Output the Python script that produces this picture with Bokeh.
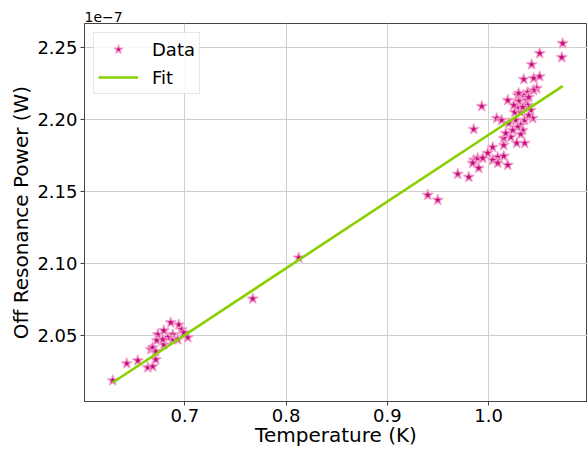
from bokeh.plotting import figure
from bokeh.models import Range1d, Title, Legend, LegendItem, FixedTicker, PrintfTickFormatter
from bokeh.embed import file_html
from bokeh.resources import INLINE

# Data (temperature in K, power in units of 1e-7 W)
temp_k = [
    0.6289, 0.6427, 0.6536, 0.6635, 0.6684, 0.6714, 0.6664, 0.6684, 0.6714, 0.6733,
    0.6724, 0.6793, 0.6862, 0.6941, 0.6970, 0.6882, 0.6882, 0.6793, 0.6931, 0.6990,
    0.7030, 0.6832, 0.6783,
    0.7671, 0.8125,
    1.0731, 1.0722, 1.0504, 1.0425, 1.0347, 1.0445, 1.0504, 1.0475, 1.0445, 1.0386,
    1.0347, 1.0287, 1.0189, 1.0297, 1.0376, 1.0386, 1.0287, 1.0258, 1.0317, 1.0416,
    1.0435, 1.0356, 1.0268, 1.0080, 1.0129, 1.0198, 1.0317, 1.0337, 1.0317, 1.0218,
    1.0149, 1.0277, 1.0356, 1.0149, 1.0040, 0.9991, 1.0090, 1.0149, 1.0040, 0.9853,
    0.9892, 0.9942, 0.9843, 0.9902, 1.0090, 1.0189, 0.9932, 0.9853, 0.9695, 0.9804,
    0.9399, 0.9498, 1.0297, 1.0396, 1.0248, 1.0337, 1.0396, 1.0287, 1.0169, 1.0238,
]
power_e7 = [
    2.0190, 2.0308, 2.0328, 2.0280, 2.0287, 2.0335, 2.0405, 2.0418, 2.0391, 2.0508,
    2.0467, 2.0536, 2.0591, 2.0577, 2.0543, 2.0508, 2.0474, 2.0439, 2.0474, 2.0522,
    2.0488, 2.0488, 2.0474,
    2.0757, 2.1041,
    2.2528, 2.2431, 2.2459, 2.2382, 2.2279, 2.2286, 2.2299, 2.2216, 2.2203, 2.2189,
    2.2168, 2.2168, 2.2133, 2.2127, 2.2133, 2.2099, 2.2085, 2.2050, 2.2050, 2.2064,
    2.2009, 2.1995, 2.1995, 2.2009, 2.1995, 2.1974, 2.1961, 2.1926, 2.1898, 2.1878,
    2.1871, 2.1836, 2.1836, 2.1822, 2.1808, 2.1767, 2.1739, 2.1746, 2.1719, 2.1719,
    2.1732, 2.1732, 2.1698, 2.1663, 2.1698, 2.1684, 2.2092, 2.1933, 2.1622, 2.1601,
    2.1476, 2.1442, 2.2182, 2.2154, 2.2099, 2.2085, 2.2030, 2.1947, 2.1905, 2.1926,
]
fit_temp_k = [0.6289, 1.0731]
fit_power_e7 = [2.0176, 2.2232]

x_ticks = [0.7, 0.8, 0.9, 1.0]
y_ticks = [2.05, 2.10, 2.15, 2.20, 2.25]
offset_text = "1e\u22127"

FONT = "DejaVu Sans"
X0, X1 = 0.601, 1.0976
Y0, Y1 = 2.0044, 2.2666

p = figure(
    width=587, height=449, output_backend="svg", toolbar_location=None,
    x_range=Range1d(X0, X1), y_range=Range1d(Y0, Y1),
    min_border_left=84, min_border_right=0, min_border_top=23, min_border_bottom=47,
)
p.background_fill_color = "white"
p.border_fill_color = "white"
p.outline_line_color = "#444444"
p.outline_line_width = 1

p.add_layout(Title(text=offset_text, align="left", text_font=FONT, text_font_size="14px",
                   text_font_style="normal", text_color="black", standoff=3, offset=0), "above")

data_r = p.scatter(temp_k, power_e7, marker="star", size=11.5,
                   fill_color="#c50d7c", line_color="#f5a8d2", line_width=1.5, line_alpha=0.75)
fit_r = p.line(fit_temp_k, fit_power_e7, line_color="#88d000", line_width=2.6)

p.xaxis.ticker = FixedTicker(ticks=x_ticks)
p.yaxis.ticker = FixedTicker(ticks=y_ticks)
p.xaxis.formatter = PrintfTickFormatter(format="%.1f")
p.yaxis.formatter = PrintfTickFormatter(format="%.2f")
p.xaxis.axis_label = "Temperature (K)"
p.yaxis.axis_label = "Off Resonance Power (W)"
for ax in (p.xaxis, p.yaxis):
    ax.axis_label_text_font = FONT
    ax.axis_label_text_font_size = "20px"
    ax.axis_label_text_font_style = "normal"
    ax.axis_label_text_color = "black"
    ax.major_label_text_font = FONT
    ax.major_label_text_font_size = "18px"
    ax.major_label_text_color = "black"
    ax.major_tick_in = 0
    ax.major_tick_out = 4
    ax.minor_tick_line_color = None
    ax.axis_line_color = "#444444"
    ax.major_tick_line_color = "#444444"
p.xaxis.major_label_standoff = 3
p.xaxis.axis_label_standoff = -2
p.yaxis.major_label_standoff = 3
p.yaxis.axis_label_standoff = 1

p.grid.grid_line_color = "#cfcfcf"
p.grid.grid_line_width = 1

legend = Legend(items=[LegendItem(label="Data", renderers=[data_r]),
                       LegendItem(label="Fit", renderers=[fit_r])],
                location="top_left")
legend.label_text_font = FONT
legend.label_text_font_size = "18px"
legend.label_text_color = "black"
legend.glyph_width = 40
legend.glyph_height = 24
legend.label_standoff = 14
legend.padding = 4
legend.spacing = 4
legend.margin = 9
legend.border_line_color = "#d0d0d0"
legend.background_fill_alpha = 0.85
p.add_layout(legend)

open("out.html", "w").write(file_html(p, INLINE))
